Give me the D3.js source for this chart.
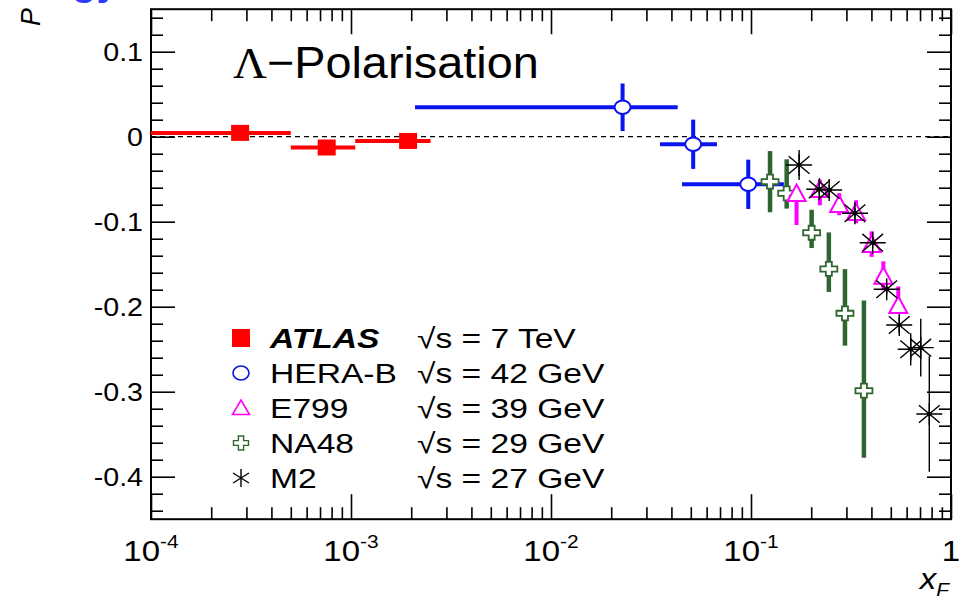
<!DOCTYPE html>
<html><head><meta charset="utf-8">
<script src="https://cdn.jsdelivr.net/npm/d3@7"></script>
<style>body{margin:0;background:#fff}svg{display:block}</style>
</head><body>
<svg id="c" width="961" height="602"></svg>
<script>
// ---------------- DATA ----------------
const atlasX    = [2.79e-4, 7.56e-4, 1.93e-3];
const atlasXlo  = [1.0e-4, 5.0e-4, 1.05e-3];
const atlasXhi  = [5.0e-4, 1.05e-3, 2.5e-3];
const atlasP    = [0.0045, -0.0127, -0.005];
const atlasErr  = [0.007, 0.007, 0.007];

const herabX    = [0.0228, 0.0514, 0.0969];
const herabXlo  = [2.09e-3, 0.0351, 0.0452];
const herabXhi  = [0.043, 0.0676, 0.146];
const herabP    = [0.0346, -0.0089, -0.056];
const herabErr  = [0.028, 0.029, 0.029];

const na48X     = [0.1245, 0.1508, 0.201, 0.245, 0.295, 0.367];
const na48P     = [-0.0529, -0.0666, -0.113, -0.1556, -0.2078, -0.2988];
const na48ErrUp = [0.036, 0.040, 0.027, 0.043, 0.052, 0.106];
const na48ErrDn = [0.036, 0.018, 0.018, 0.027, 0.038, 0.079];

const e799X     = [0.169, 0.221, 0.276, 0.335, 0.401, 0.459, 0.545];
const e799P     = [-0.0674, -0.0627, -0.0804, -0.0898, -0.1274, -0.1647, -0.1992];
const e799ErrUp = [0.0085, 0.012, 0.014, 0.015, 0.016, 0.018, 0.023];
const e799ErrDn = [0.0365, 0.018, 0.012, 0.012, 0.014, 0.016, 0.008];

const m2X       = [0.174, 0.2195, 0.246, 0.331, 0.406, 0.477, 0.551, 0.629, 0.706, 0.779];
const m2P       = [-0.0333, -0.0619, -0.0627, -0.0901, -0.1247, -0.1795, -0.2215, -0.2501, -0.2482, -0.3262];
const m2Err     = [0.0176, 0.006, 0.006, 0.006, 0.006, 0.006, 0.009, 0.019, 0.034, 0.068];

const yTickValues = [0.1, 0, -0.1, -0.2, -0.3, -0.4];
const yTickLabels = ["0.1", "0", "-0.1", "-0.2", "-0.3", "-0.4"];
const xTickValues = [1e-4, 1e-3, 1e-2, 1e-1, 1];
const xTickBases  = ["10", "10", "10", "10", "1"];
const xTickExps   = ["-4", "-3", "-2", "-1", ""];

const legendNames  = ["ATLAS", "HERA-B", "E799", "NA48", "M2"];
const legendEnergy = ["7 TeV", "42 GeV", "39 GeV", "29 GeV", "27 GeV"];

// ---------------- SETUP ----------------
const FONT = "'Liberation Sans', Arial, Helvetica, sans-serif";
const svg = d3.select("#c");
svg.append("rect").attr("width",961).attr("height",602).attr("fill","#fff");

const x = d3.scaleLog().domain([1e-4, 1]).range([151, 951]);
const y = d3.scaleLinear().domain([-0.45, 0.15]).range([519.2, 9.2]);
const [X0, X1] = x.range();
const [Y0, Y1] = y.range();

const C_RED = "#ff0000", C_BLUE = "#0a14f0", C_MAG = "#ff00ff", C_GRN = "#2f6630", C_BLK = "#000";

function stext(parent, px, py, sx, str){
  return parent.append("text").attr("transform", `translate(${px},${py}) scale(${sx},1)`).text(str);
}

// partially visible blue heading at the very top (cut off in the original too)
svg.append("text").attr("x",72).attr("y",-5).attr("font-family",FONT).attr("font-weight","bold")
  .attr("font-size",40).attr("fill","#2a3cff").text("gy");

// ---------------- AXES ----------------
const minorX = [];
[1e-4,1e-3,1e-2,1e-1].forEach(d => { for (let k=2;k<10;k++) minorX.push(k*d); });
const minorY = d3.range(-44, 15, 2).map(v => v/100).filter(v => Math.abs(Math.round(v*100)%10) !== 0);

const axG = svg.append("g");
function addAxis(axis, tr){
  const g = axG.append("g").attr("transform", tr).call(axis);
  g.select(".domain").remove();
  g.selectAll("line").attr("stroke","#000").attr("stroke-width",1.6);
  g.selectAll("text").remove();
}
addAxis(d3.axisBottom(x).tickValues(xTickValues).tickSize(-25), `translate(0,${Y0})`);
addAxis(d3.axisBottom(x).tickValues(minorX).tickSize(-12), `translate(0,${Y0})`);
addAxis(d3.axisTop(x).tickValues(xTickValues).tickSize(-25), `translate(0,${Y1})`);
addAxis(d3.axisTop(x).tickValues(minorX).tickSize(-12), `translate(0,${Y1})`);
addAxis(d3.axisLeft(y).tickValues(yTickValues).tickSize(-24), `translate(${X0},0)`);
addAxis(d3.axisLeft(y).tickValues(minorY).tickSize(-12), `translate(${X0},0)`);
addAxis(d3.axisRight(y).tickValues(yTickValues).tickSize(-24), `translate(${X1},0)`);
addAxis(d3.axisRight(y).tickValues(minorY).tickSize(-12), `translate(${X1},0)`);

svg.append("rect").attr("x",X0).attr("y",Y1).attr("width",X1-X0).attr("height",Y0-Y1)
  .attr("fill","none").attr("stroke","#000").attr("stroke-width",2);

// y tick labels
const yl = svg.append("g").attr("font-family",FONT).attr("font-size",26).attr("text-anchor","end").attr("fill","#000");
yTickValues.forEach((v,i) => { stext(yl, 143, y(v)+9.5, 1.1, yTickLabels[i]); });

// x tick labels
const xl = svg.append("g").attr("font-family",FONT).attr("fill","#000");
xTickValues.forEach((v,i) => {
  const t = xl.append("text").attr("transform",`translate(${x(v)},561) scale(1.1,1)`)
    .attr("text-anchor","middle").attr("font-size",30);
  t.append("tspan").text(xTickBases[i]);
  if (xTickExps[i]) t.append("tspan").attr("font-size",19).attr("dy",-13).text(xTickExps[i]);
});

// axis titles
svg.append("text").attr("transform","translate(40,8) rotate(-90)").attr("text-anchor","end")
  .attr("font-family",FONT).attr("font-style","italic").attr("font-size",27).text("P");
const xt = svg.append("text").attr("transform","translate(949,589) scale(1.1,1)").attr("text-anchor","end")
  .attr("font-family",FONT).attr("font-style","italic").attr("font-size",30);
xt.append("tspan").text("x");
xt.append("tspan").attr("font-size",19).attr("dy",7).text("F");

// zero line
svg.append("line").attr("x1",X0).attr("x2",X1).attr("y1",y(0)).attr("y2",y(0))
  .attr("stroke","#000").attr("stroke-width",1.2).attr("stroke-dasharray","5,4");

// title
const tt = svg.append("text").attr("transform","translate(233,78) scale(1.04,1)")
  .attr("font-family",FONT).attr("font-size",45).attr("fill","#000");
tt.append("tspan").attr("font-family","'Liberation Serif', 'Times New Roman', serif").text("Λ");
tt.append("tspan").text("−Polarisation");

// ---------------- MARKERS ----------------
const starPath = (a,b) => `M${-a},0L${a},0M0,${-b}L0,${b}M${-a*0.8},${-b*0.8}L${a*0.8},${b*0.8}M${-a*0.8},${b*0.8}L${a*0.8},${-b*0.8}`;
const crossPath = (L,w,Lh,wh) => `M${-wh},${-L}L${wh},${-L}L${wh},${-w}L${Lh},${-w}L${Lh},${w}L${wh},${w}L${wh},${L}L${-wh},${L}L${-wh},${w}L${-Lh},${w}L${-Lh},${-w}L${-wh},${-w}Z`;
const triPath = (hw,top,bot) => `M0,${-top}L${hw},${bot}L${-hw},${bot}Z`;

const plot = svg.append("g");

// ATLAS
const atlas = atlasX.map((v,i)=>({x:v, lo:atlasXlo[i], hi:atlasXhi[i], p:atlasP[i], e:atlasErr[i]}));
plot.append("g").selectAll("line").data(atlas).join("line")
  .attr("x1",d=>x(d.lo)).attr("x2",d=>x(d.hi)).attr("y1",d=>y(d.p)).attr("y2",d=>y(d.p))
  .attr("stroke",C_RED).attr("stroke-width",4);
plot.append("g").selectAll("line").data(atlas).join("line")
  .attr("x1",d=>x(d.x)).attr("x2",d=>x(d.x)).attr("y1",d=>y(d.p+d.e)).attr("y2",d=>y(d.p-d.e))
  .attr("stroke",C_RED).attr("stroke-width",4);
plot.append("g").selectAll("rect").data(atlas).join("rect")
  .attr("x",d=>x(d.x)-9).attr("y",d=>y(d.p)-8).attr("width",18).attr("height",16).attr("fill",C_RED);

// HERA-B
const herab = herabX.map((v,i)=>({x:v, lo:herabXlo[i], hi:herabXhi[i], p:herabP[i], e:herabErr[i]}));
plot.append("g").selectAll("line").data(herab).join("line")
  .attr("x1",d=>x(d.lo)).attr("x2",d=>x(d.hi)).attr("y1",d=>y(d.p)).attr("y2",d=>y(d.p))
  .attr("stroke",C_BLUE).attr("stroke-width",4);
plot.append("g").selectAll("line").data(herab).join("line")
  .attr("x1",d=>x(d.x)).attr("x2",d=>x(d.x)).attr("y1",d=>y(d.p+d.e)).attr("y2",d=>y(d.p-d.e))
  .attr("stroke",C_BLUE).attr("stroke-width",4);
plot.append("g").selectAll("ellipse").data(herab).join("ellipse")
  .attr("cx",d=>x(d.x)).attr("cy",d=>y(d.p)).attr("rx",8).attr("ry",6.8)
  .attr("fill","#fff").attr("stroke",C_BLUE).attr("stroke-width",2);

// NA48
const na48 = na48X.map((v,i)=>({x:v, p:na48P[i], up:na48ErrUp[i], dn:na48ErrDn[i]}));
plot.append("g").selectAll("line").data(na48).join("line")
  .attr("x1",d=>x(d.x)).attr("x2",d=>x(d.x)).attr("y1",d=>y(d.p+d.up)).attr("y2",d=>y(d.p-d.dn))
  .attr("stroke",C_GRN).attr("stroke-width",4.5);
plot.append("g").selectAll("path").data(na48).join("path")
  .attr("transform",d=>`translate(${x(d.x)},${y(d.p)})`).attr("d",crossPath(7,2.6,8.5,3))
  .attr("fill","#fff").attr("stroke",C_GRN).attr("stroke-width",1.8);

// E799
const e799 = e799X.map((v,i)=>({x:v, p:e799P[i], up:e799ErrUp[i], dn:e799ErrDn[i]}));
plot.append("g").selectAll("line").data(e799).join("line")
  .attr("x1",d=>x(d.x)).attr("x2",d=>x(d.x)).attr("y1",d=>y(d.p+d.up)).attr("y2",d=>y(d.p-d.dn))
  .attr("stroke",C_MAG).attr("stroke-width",4);
plot.append("g").selectAll("path").data(e799).join("path")
  .attr("transform",d=>`translate(${x(d.x)},${y(d.p)})`).attr("d",triPath(9,9.5,7))
  .attr("fill","#fff").attr("stroke",C_MAG).attr("stroke-width",2);

// M2
const m2 = m2X.map((v,i)=>({x:v, p:m2P[i], e:m2Err[i]}));
plot.append("g").selectAll("line").data(m2).join("line")
  .attr("x1",d=>x(d.x)).attr("x2",d=>x(d.x)).attr("y1",d=>y(d.p+d.e)).attr("y2",d=>y(d.p-d.e))
  .attr("stroke",C_BLK).attr("stroke-width",1.4);
plot.append("g").selectAll("path").data(m2).join("path")
  .attr("transform",d=>`translate(${x(d.x)},${y(d.p)})`).attr("d",starPath(13,11))
  .attr("fill","none").attr("stroke",C_BLK).attr("stroke-width",1.4);
plot.append("g").selectAll("circle").data(m2).join("circle")
  .attr("cx",d=>x(d.x)).attr("cy",d=>y(d.p)).attr("r",2.2).attr("fill",C_BLK);

// ---------------- LEGEND ----------------
const lg = svg.append("g").attr("font-family",FONT).attr("font-size",28).attr("fill","#000");
const rowY = [348, 383, 418, 453, 488];
const mx = 241;
legendNames.forEach((n,i) => {
  const cy = rowY[i] - 10;
  if (i===0) lg.append("rect").attr("x",mx-9).attr("y",cy-9).attr("width",18).attr("height",18).attr("fill",C_RED);
  if (i===1) lg.append("ellipse").attr("cx",mx).attr("cy",cy).attr("rx",8).attr("ry",7).attr("fill","none").attr("stroke","#1010e0").attr("stroke-width",1.6);
  if (i===2) lg.append("path").attr("transform",`translate(${mx},${cy})`).attr("d",triPath(8.5,8,6.5)).attr("fill","none").attr("stroke",C_MAG).attr("stroke-width",1.6);
  if (i===3) lg.append("path").attr("transform",`translate(${mx},${cy})`).attr("d",crossPath(7,2.4,7.5,2.6)).attr("fill","none").attr("stroke",C_GRN).attr("stroke-width",1.4);
  if (i===4) lg.append("path").attr("transform",`translate(${mx},${cy})`).attr("d",starPath(0.01,9)+`M-8,-5L8,5M-8,5L8,-5`).attr("fill","none").attr("stroke",C_BLK).attr("stroke-width",1.4);
  const t = stext(lg, 270, rowY[i], 1.2, n);
  if (i===0) t.attr("font-weight","bold").attr("font-style","italic");
  stext(lg, 417, rowY[i], 1.2, "√s = " + legendEnergy[i]);
});
</script>
</body></html>
